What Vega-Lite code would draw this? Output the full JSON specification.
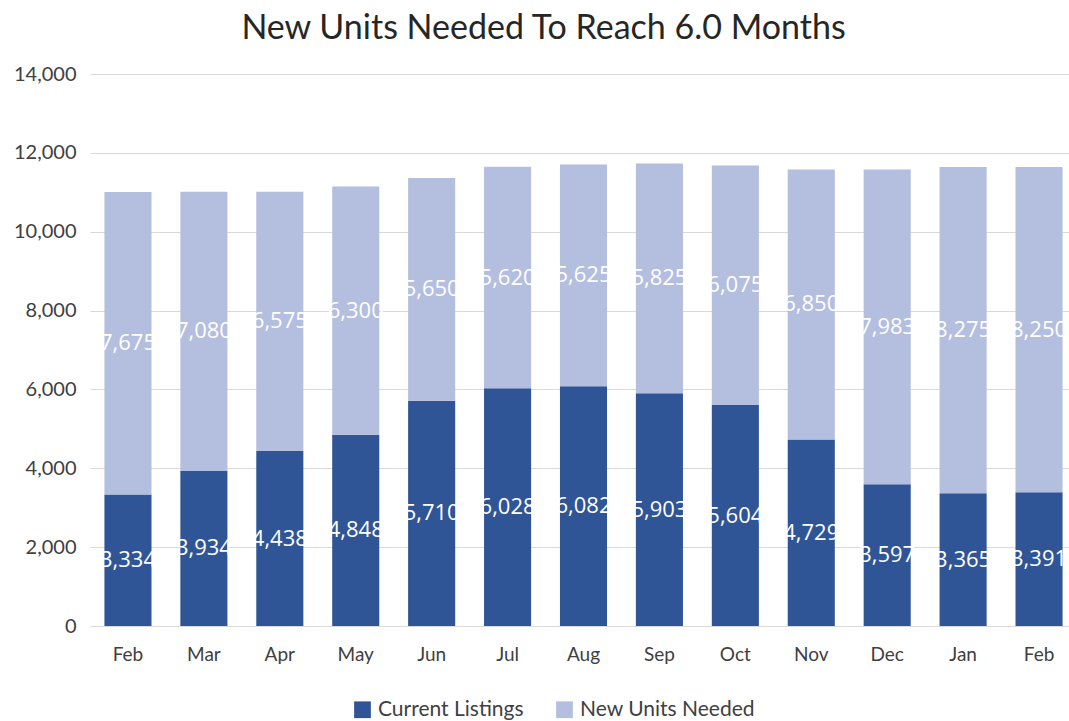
{
  "$schema": "https://vega.github.io/schema/vega-lite/v6.json",
  "width": 987,
  "height": 552,
  "autosize": {"type": "none"},
  "padding": {"left": 90, "top": 74, "right": 0, "bottom": 95},
  "background": "white",
  "view": {"stroke": null},
  "title": {
    "text": "New Units Needed To Reach 6.0 Months",
    "anchor": "middle",
    "font": "Lato",
    "fontSize": 34,
    "fontWeight": "normal",
    "color": "#262626",
    "offset": 18,
    "dx": -40
  },
  "data": {
    "values": [
      {"month": "Feb", "series": "Current Listings", "value": 3334},
      {"month": "Feb", "series": "New Units Needed", "value": 7675},
      {"month": "Mar", "series": "Current Listings", "value": 3934},
      {"month": "Mar", "series": "New Units Needed", "value": 7080},
      {"month": "Apr", "series": "Current Listings", "value": 4438},
      {"month": "Apr", "series": "New Units Needed", "value": 6575},
      {"month": "May", "series": "Current Listings", "value": 4848},
      {"month": "May", "series": "New Units Needed", "value": 6300},
      {"month": "Jun", "series": "Current Listings", "value": 5710},
      {"month": "Jun", "series": "New Units Needed", "value": 5650},
      {"month": "Jul", "series": "Current Listings", "value": 6028},
      {"month": "Jul", "series": "New Units Needed", "value": 5620},
      {"month": "Aug", "series": "Current Listings", "value": 6082},
      {"month": "Aug", "series": "New Units Needed", "value": 5625},
      {"month": "Sep", "series": "Current Listings", "value": 5903},
      {"month": "Sep", "series": "New Units Needed", "value": 5825},
      {"month": "Oct", "series": "Current Listings", "value": 5604},
      {"month": "Oct", "series": "New Units Needed", "value": 6075},
      {"month": "Nov", "series": "Current Listings", "value": 4729},
      {"month": "Nov", "series": "New Units Needed", "value": 6850},
      {"month": "Dec", "series": "Current Listings", "value": 3597},
      {"month": "Dec", "series": "New Units Needed", "value": 7983},
      {"month": "Jan", "series": "Current Listings", "value": 3365},
      {"month": "Jan", "series": "New Units Needed", "value": 8275},
      {"month": "Feb ", "series": "Current Listings", "value": 3391},
      {"month": "Feb ", "series": "New Units Needed", "value": 8250}
    ]
  },
  "transform": [
    {"stack": "value", "groupby": ["month"], "sort": [{"field": "series", "order": "ascending"}], "as": ["y0", "y1"]},
    {"calculate": "(datum.y0 + datum.y1) / 2", "as": "ymid"}
  ],
  "encoding": {
    "x": {
      "field": "month",
      "type": "nominal",
      "sort": null,
      "scale": {"paddingInner": 0.38, "paddingOuter": 0.19},
      "axis": {
        "title": null,
        "labelAngle": 0,
        "labelExpr": "trim(datum.label)",
        "labelFont": "Lato",
        "labelFontSize": 19,
        "labelColor": "#404040",
        "labelPadding": 19,
        "ticks": false,
        "domainColor": "#D9D9D9",
        "domainWidth": 1
      }
    }
  },
  "layer": [
    {
      "mark": {"type": "bar"},
      "encoding": {
        "y": {
          "field": "y0",
          "type": "quantitative",
          "scale": {"domain": [0, 14000]},
          "axis": {
            "title": null,
            "values": [0, 2000, 4000, 6000, 8000, 10000, 12000, 14000],
            "format": ",d",
            "labelFont": "Lato",
            "labelFontSize": 20,
            "labelColor": "#404040",
            "labelPadding": 14,
            "ticks": false,
            "domain": false,
            "gridColor": "#D9D9D9",
            "gridWidth": 1
          }
        },
        "y2": {"field": "y1"},
        "color": {
          "field": "series",
          "type": "nominal",
          "scale": {"domain": ["Current Listings", "New Units Needed"], "range": ["#2F5597", "#B4BEDF"]},
          "legend": {
            "title": null,
            "orient": "none",
            "direction": "horizontal",
            "legendX": 262,
            "legendY": 625,
            "symbolType": "square",
            "symbolSize": 280,
            "symbolStrokeWidth": 0,
            "labelFont": "Lato",
            "labelFontSize": 21,
            "labelColor": "#404040",
            "labelLimit": 400,
            "columnPadding": 30,
            "labelOffset": 5
          }
        }
      }
    },
    {
      "mark": {"type": "text", "color": "white", "font": "Open Sans", "fontSize": 22, "baseline": "middle", "align": "center"},
      "encoding": {
        "y": {"field": "ymid", "type": "quantitative"},
        "text": {"field": "value", "type": "quantitative", "format": ",d"}
      }
    }
  ]
}
